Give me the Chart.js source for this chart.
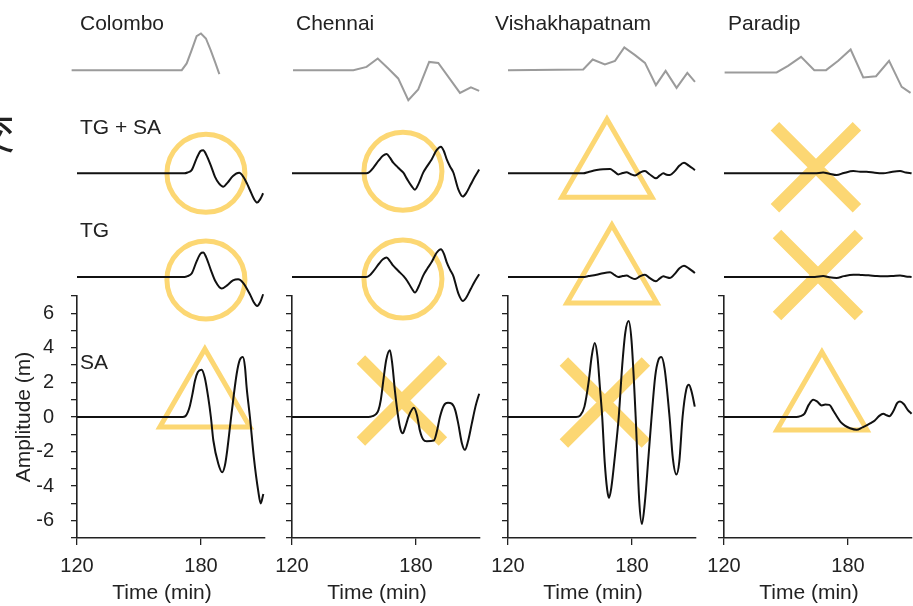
<!DOCTYPE html>
<html>
<head>
<meta charset="utf-8">
<script src="https://cdn.jsdelivr.net/npm/chart.js@4.4.1/dist/chart.umd.min.js"></script>
<style>
  body { margin: 0; background: #fff; }
  #fig { position: relative; width: 913px; height: 606px; overflow: hidden; }
  #fig canvas { position: absolute; top: 0; }
</style>
</head>
<body>
<div id="fig">
  <canvas id="c0"></canvas>
  <canvas id="c1"></canvas>
  <canvas id="c2"></canvas>
  <canvas id="c3"></canvas>
</div>
<script>
const stations = ['Colombo', 'Chennai', 'Vishakhapatnam', 'Paradip'];
const rowNames = ['TG + SA', 'TG', 'SA'];
const xTitle = 'Time (min)';
const xTicks = [120, 180];
const yTicks = [-7, -6, -5, -4, -3, -2, -1, 0, 1, 2, 3, 4, 5, 6, 7];
const yLabels = [-6, -4, -2, 0, 2, 4, 6];

// [time (min), amplitude]
const colomboObs = [[117.4, 0], [170.7, 0], [173.1, 0.39], [175.5, 1.16], [177.9, 1.97], [180, 2.13], [182.4, 1.84], [184.7, 1.16], [186.8, 0.48], [188.9, -0.23]];
const colomboTgsa = [[120, 0], [172, 0], [173.5, 0.05], [175.5, 0.19], [177.9, 0.87], [179.8, 1.3], [181.1, 1.35], [182.5, 1.1], [184.8, 0.45], [186.8, -0.2], [188.8, -0.6], [190.8, -0.78], [192.8, -0.55], [195.5, -0.15], [198.5, 0.03], [200.5, -0.2], [202.3, -0.6], [203.7, -0.97], [205.5, -1.45], [207.2, -1.7], [208.7, -1.5], [210.1, -1.16]];
const colomboTg = [[120, 0], [172, 0], [173.5, 0.05], [175.5, 0.2], [177.9, 0.9], [179.8, 1.35], [181.1, 1.41], [182.5, 1.15], [184.8, 0.4], [187, -0.25], [190, -0.67], [192.5, -0.5], [195.5, -0.2], [198, -0.13], [200.5, -0.35], [203.7, -1.0], [205.5, -1.45], [207.2, -1.68], [208.7, -1.45], [210.1, -1.0]];
const colomboSa = [[120, 0], [171, 0], [172.5, 0.05], [173.7, 0.3], [174.7, 0.67], [176, 1.4], [177.1, 2.1], [178.5, 2.6], [180.3, 2.74], [181.8, 2.3], [183.5, 1.15], [184.8, 0], [186, -1.36], [188.4, -2.7], [190.3, -3.2], [191.6, -2.8], [192.7, -1.94], [194.8, 0.2], [197.3, 2.5], [198.8, 3.3], [200.3, 3.47], [201.3, 2.9], [202.1, 1.73], [203.7, 0], [205.6, -2.33], [207.7, -4.26], [208.9, -5.0], [210.2, -4.45]];

const chennaiObs = [[120.5, 0], [149.7, 0], [156.1, 0.19], [161.5, 0.68], [166.6, 0.1], [171.4, -0.48], [176.3, -1.74], [181.1, -1.12], [186.4, 0.48], [190.8, 0.42], [201.3, -1.32], [206.6, -1.0], [210.6, -1.2]];
const chennaiTgsa = [[120, 0], [156, 0], [157.5, 0.08], [159.5, 0.35], [162, 0.75], [164, 1.02], [165.8, 1.12], [167.4, 0.91], [169, 0.62], [170.7, 0.42], [172.3, 0.22], [173.9, 0.04], [175.8, -0.35], [177.9, -0.74], [179.5, -0.95], [181.3, -0.6], [183.5, 0.04], [185.6, 0.45], [187.6, 0.81], [190, 1.35], [192.1, 1.55], [193.5, 1.3], [194.9, 0.81], [196.5, 0.4], [198.1, 0.05], [200.5, -0.93], [202.7, -1.35], [204.3, -1.15], [206.5, -0.65], [208.5, -0.2], [210.6, 0.22]];
const chennaiTg = [[120, 0], [156, 0], [157.5, 0.08], [159.5, 0.35], [162, 0.75], [164, 1.02], [165.8, 1.12], [167.4, 0.92], [169, 0.65], [170.7, 0.45], [172.3, 0.25], [173.9, 0.06], [175.8, -0.23], [177.9, -0.65], [179.5, -0.9], [181.3, -0.55], [183.5, 0.08], [185.6, 0.5], [187.6, 0.86], [190, 1.4], [192.1, 1.6], [193.5, 1.35], [194.9, 0.85], [196.5, 0.42], [198.1, 0.05], [200.5, -0.95], [202.7, -1.39], [204.3, -1.2], [206.5, -0.7], [208.5, -0.25], [210.6, 0.16]];
const chennaiSa = [[120, 0], [157, 0], [159, 0.05], [160.5, 0.15], [161.8, 0.38], [163, 1.0], [164.2, 2.1], [165.6, 3.3], [167.4, 3.86], [168.6, 3.0], [169.8, 1.54], [171.4, 0], [172.6, -0.75], [173.6, -0.94], [174.8, -0.6], [176.5, 0.05], [179, 0.53], [180.5, 0.1], [181.9, -0.78], [183.5, -1.3], [185.2, -1.4], [188.7, -1.36], [190.2, -0.8], [191.6, 0], [193.5, 0.67], [195.5, 0.82], [197.3, 0.77], [199, 0.4], [200.5, -0.4], [202.2, -1.5], [203.7, -1.9], [205.2, -1.4], [207, -0.4], [208.8, 0.6], [210.6, 1.35]];

const vishakObs = [[120, 0], [156.4, 0.04], [161, 0.62], [166.9, 0.33], [171.8, 0.54], [176.3, 1.32], [181.5, 0.87], [186.3, 0.42], [191.6, -0.87], [196.3, -0.04], [201.6, -1.03], [206.8, -0.16], [210.5, -0.68]];
const vishakTgsa = [[120, 0], [156.4, 0], [159, 0.08], [162.9, 0.19], [166, 0.24], [169.4, 0.25], [171.5, 0.1], [173.4, -0.06], [175.5, 0.02], [177.4, 0.06], [179.5, -0.05], [181.5, -0.12], [184, 0.05], [186.3, 0.13], [188.5, -0.05], [191.6, -0.29], [193.5, -0.12], [195.2, 0], [196.8, -0.08], [198.4, -0.1], [200.5, 0.1], [203, 0.45], [205.2, 0.61], [207.5, 0.45], [210.5, 0.19]];
const vishakTg = [[120, 0], [156.4, 0], [159, 0.05], [162.9, 0.13], [166, 0.22], [169.4, 0.27], [171.5, 0.12], [173.4, 0], [175.5, 0.05], [177.4, 0.08], [179.5, -0.04], [181.5, -0.12], [184, 0.05], [186.3, 0.13], [188.5, -0.05], [191.6, -0.25], [193.5, -0.08], [195.2, 0.04], [196.8, -0.02], [198.4, -0.06], [200.5, 0.15], [203, 0.5], [205.2, 0.65], [207.5, 0.5], [210.5, 0.23]];
const vishakSa = [[120, 0], [153, 0], [155, 0.1], [157, 0.6], [159, 2.0], [160.5, 3.5], [162, 4.28], [163.3, 3.5], [164.5, 1.7], [165.6, 0], [166.8, -2.6], [168, -4.2], [168.9, -4.68], [170, -4.1], [171.8, -2.2], [173.6, 0], [175.3, 3.0], [176.8, 4.9], [178.4, 5.55], [179.8, 4.4], [181.8, 0], [183.5, -4.8], [184.8, -6.19], [186.2, -5.0], [188, -2.3], [189.5, 0], [191.3, 2.4], [192.8, 3.3], [194.2, 3.47], [195.8, 2.8], [198.2, 0], [199.8, -2.4], [201.5, -3.33], [202.9, -2.6], [204.5, 0], [206.3, 1.6], [207.6, 1.87], [209, 1.4], [210.4, 0.6]];

const paradipObs = [[120.3, -0.13], [145.5, -0.13], [151, 0.25], [157.3, 0.77], [163.7, 0], [169.4, 0], [175.3, 0.54], [181.3, 1.2], [187.4, -0.42], [193.6, -0.35], [199.9, 0.54], [206, -0.97], [210.3, -1.32]];
const paradipTgsa = [[120, 0], [164, 0], [168, 0.05], [171, -0.02], [174.5, -0.1], [178, 0.02], [182.6, 0.13], [186, 0.1], [189, 0.1], [193, 0.03], [197.1, 0], [201, 0.08], [205.2, 0.13], [208, 0.05], [210.8, 0]];
const paradipTg = [[120, 0], [164, 0], [168, 0.05], [171, -0.02], [174.5, -0.06], [178, 0.05], [182.6, 0.13], [186, 0.12], [190, 0.1], [194, 0.05], [198, 0.04], [202, 0.06], [205.2, 0.08], [208, 0.03], [210.8, 0]];
const paradipSa = [[120, 0], [155, 0], [157, 0.05], [159, 0.2], [161, 0.7], [163.2, 1.0], [165, 0.9], [167.3, 0.67], [169, 0.72], [171, 0.7], [173, 0.35], [174.8, 0], [176.5, -0.3], [178.5, -0.5], [181, -0.65], [184.2, -0.74], [187, -0.6], [189, -0.49], [191, -0.35], [193, -0.2], [195, 0.05], [197.1, 0.19], [198.7, 0.1], [200, 0.05], [202, 0.35], [203.8, 0.8], [205.2, 0.9], [207, 0.75], [209, 0.4], [210.8, 0.19]];

// verdict marks: [row, shape, time, amplitude]
const colomboMarks = [['tgsa', 'circle', 182.4, 0], ['tg', 'circle', 182.4, -0.17], ['sa', 'triangle', 181.9, 0.93]];
const chennaiMarks = [['tgsa', 'circle', 173.7, 0.12], ['tg', 'circle', 173.7, -0.12], ['sa', 'cross', 173.2, 0.96]];
const vishakMarks = [['tgsa', 'triangle', 167.9, 0.12], ['tg', 'triangle', 170.3, 0], ['sa', 'cross', 166.9, 0.84]];
const paradipMarks = [['tgsa', 'cross', 164.5, 0.35], ['tg', 'cross', 165.5, 0.12], ['sa', 'triangle', 167.4, 0.75]];

const series = [
  [colomboObs, colomboTgsa, colomboTg, colomboSa, colomboMarks],
  [chennaiObs, chennaiTgsa, chennaiTg, chennaiSa, chennaiMarks],
  [vishakObs, vishakTgsa, vishakTg, vishakSa, vishakMarks],
  [paradipObs, paradipTgsa, paradipTg, paradipSa, paradipMarks]
];

const FONT = '"Liberation Sans", Arial, sans-serif';
const INK = '#222';
const GREY = '#9b9b9b';
const YELLOW = '#fcd773';
Chart.defaults.font.family = FONT;
Chart.defaults.color = INK;

// page layout of the four panels (pixels)
const cols = [
  {left: 0, width: 273, axisW: 77, titleDx: 3},
  {left: 262, width: 226, axisW: 30, titleDx: 4},
  {left: 478, width: 226, axisW: 30, titleDx: -13},
  {left: 694, width: 219, axisW: 30, titleDx: 4}
];

const axisOf = {tgsa: 'yTGSA', tg: 'yTG', sa: 'y'};
const shapes = {
  circle: {style: 'circle', r: 39, w: 5},
  triangle: {style: 'triangle', r: 52, w: 5},
  cross: {style: 'crossRot', r: 58, w: 12}
};

function lineSet(points, axis, color) {
  return {
    data: points.map(p => ({x: p[0], y: p[1]})),
    yAxisID: axis,
    borderColor: color,
    borderWidth: 2,
    pointRadius: 0,
    tension: 0,
    cubicInterpolationMode: color === GREY ? 'default' : 'monotone',
    clip: false,
    order: 1
  };
}

function markSet(m) {
  const s = shapes[m[1]];
  return {
    data: [{x: m[2], y: m[3]}],
    yAxisID: axisOf[m[0]],
    showLine: false,
    pointStyle: s.style,
    pointRadius: s.r,
    pointBorderWidth: s.w,
    pointBorderColor: YELLOW,
    pointBackgroundColor: 'rgba(0,0,0,0)',
    clip: false,
    order: 5
  };
}

// upper rows: hidden axes stacked above the SA panel, same metres-per-pixel
function rowAxis(weight, height, min, max) {
  return {type: 'linear', position: 'left', display: false, stack: 'col',
          weight: weight, stackWeight: height, min: min, max: max, bounds: 'data'};
}

const panelText = {
  id: 'panelText',
  afterDraw(chart, args, o) {
    const ctx = chart.ctx, a = chart.chartArea;
    ctx.save();
    ctx.fillStyle = INK;
    ctx.textBaseline = 'middle';
    ctx.textAlign = 'left';
    ctx.font = '21px ' + FONT;
    ctx.fillText(o.title, a.left + o.titleDx, 24.5);
    if (o.rowLabels) {
      ctx.fillText(rowNames[0], a.left + 3, chart.scales.yTGSA.getPixelForValue(2.65));
      ctx.fillText(rowNames[1], a.left + 3, chart.scales.yTG.getPixelForValue(2.65));
      ctx.fillText(rowNames[2], a.left + 3, chart.scales.y.getPixelForValue(3.1));
    }
    // x-axis title sits a little left of the panel centre in the original
    ctx.textAlign = 'center';
    ctx.fillText(xTitle, (a.left + a.right) / 2 - 9, 593);
    if (o.rowLabels) {
      ctx.font = '44px "Noto Sans CJK SC"';
      ctx.textAlign = 'right';
      ctx.fillText('交', 15, 132);
    }
    ctx.restore();
  }
};

const tickGrid = {drawOnChartArea: false, drawTicks: true, tickLength: 6, color: INK, lineWidth: 1.3};
const axisBorder = {display: true, color: INK, width: 1.6};

stations.forEach(function (name, i) {
  const col = cols[i];
  const first = i === 0;
  const [obs, tgsa, tg, sa, marks] = series[i];
  const canvas = document.getElementById('c' + i);
  canvas.width = col.width;
  canvas.height = 606;
  canvas.style.left = col.left + 'px';

  const datasets = [
    lineSet(sa, 'y', '#111'),
    lineSet(tg, 'yTG', '#111'),
    lineSet(tgsa, 'yTGSA', '#111'),
    lineSet(obs, 'yObs', GREY)
  ].concat(marks.map(markSet));

  new Chart(canvas.getContext('2d'), {
    type: 'line',
    data: {datasets: datasets},
    plugins: [panelText],
    options: {
      responsive: false,
      animation: false,
      events: [],
      layout: {autoPadding: false, padding: {top: 40, left: 0, bottom: 0, right: col.width - col.axisW - 188}},
      plugins: {
        legend: {display: false},
        tooltip: {enabled: false},
        panelText: {title: name, titleDx: col.titleDx, rowLabels: first}
      },
      scales: {
        x: {
          type: 'linear', min: 120, max: 211, bounds: 'data',
          afterBuildTicks: s => { s.ticks = xTicks.map(v => ({value: v})); },
          afterFit: s => { s.height = 68; },
          ticks: {color: INK, font: {size: 20}, padding: 9, maxRotation: 0, autoSkip: false},
          grid: Object.assign({}, tickGrid, {tickLength: 7}),
          border: axisBorder,
          title: {display: false}
        },
        yObs: rowAxis(4, 56, -1.5, 1.75),
        yTGSA: rowAxis(3, 104, -1.55, 4.5),
        yTG: rowAxis(2, 96, -1.1, 4.45),
        y: {
          type: 'linear', position: 'left', stack: 'col', weight: 1, stackWeight: 242,
          min: -7, max: 7, bounds: 'data',
          afterBuildTicks: s => { s.ticks = yTicks.map(v => ({value: v})); },
          afterFit: s => { s.width = col.axisW; },
          ticks: {
            color: INK, font: {size: 20}, padding: 17, autoSkip: false,
            callback: v => (first && yLabels.includes(v)) ? String(v) : ''
          },
          grid: tickGrid,
          border: axisBorder,
          title: {display: first, text: 'Amplitude (m)', color: INK, font: {size: 21}, padding: {top: 12, bottom: 0}}
        }
      }
    }
  });
});
</script>
</body>
</html>
